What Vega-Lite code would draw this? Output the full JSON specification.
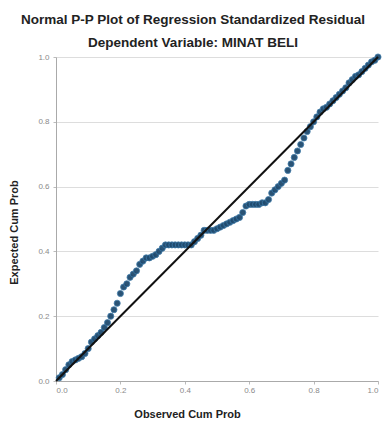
{
  "$schema": "https://vega.github.io/schema/vega-lite/v6.json",
  "width": 322,
  "height": 324,
  "autosize": "none",
  "padding": {"left": 56, "top": 57, "right": 5, "bottom": 40},
  "background": "white",
  "title": {
    "text": "Normal P-P Plot of Regression Standardized Residual",
    "subtitle": "Dependent Variable: MINAT BELI",
    "font": "Liberation Sans",
    "fontSize": 13.5,
    "fontWeight": "bold",
    "color": "#222222",
    "subtitleFont": "Liberation Sans",
    "subtitleFontSize": 13.5,
    "subtitleFontWeight": "bold",
    "subtitleColor": "#222222",
    "subtitlePadding": 9,
    "anchor": "middle",
    "frame": "group",
    "offset": 3,
    "dx": -24
  },
  "config": {
    "view": {"stroke": null},
    "axis": {
      "labelFont": "Liberation Sans",
      "labelFontSize": 8,
      "labelColor": "#8a8a8a",
      "titleFont": "Liberation Sans",
      "titleFontSize": 11,
      "titleFontWeight": "bold",
      "titleColor": "#222222",
      "domainColor": "#aaaaaa",
      "tickColor": "#bbbbbb",
      "tickSize": 3,
      "gridColor": "#dddddd"
    }
  },
  "datasets": {
    "pts": [
      {"obs": 0.01, "exp": 0.01}, {"obs": 0.02, "exp": 0.02}, {"obs": 0.03, "exp": 0.035}, {"obs": 0.04, "exp": 0.05},
      {"obs": 0.05, "exp": 0.06}, {"obs": 0.06, "exp": 0.065}, {"obs": 0.07, "exp": 0.07}, {"obs": 0.08, "exp": 0.075},
      {"obs": 0.09, "exp": 0.085}, {"obs": 0.10, "exp": 0.10}, {"obs": 0.11, "exp": 0.12}, {"obs": 0.12, "exp": 0.13},
      {"obs": 0.13, "exp": 0.14}, {"obs": 0.14, "exp": 0.15}, {"obs": 0.15, "exp": 0.165}, {"obs": 0.16, "exp": 0.18},
      {"obs": 0.17, "exp": 0.20}, {"obs": 0.18, "exp": 0.22}, {"obs": 0.19, "exp": 0.24}, {"obs": 0.20, "exp": 0.27},
      {"obs": 0.21, "exp": 0.29}, {"obs": 0.22, "exp": 0.30}, {"obs": 0.23, "exp": 0.32}, {"obs": 0.24, "exp": 0.33},
      {"obs": 0.25, "exp": 0.34}, {"obs": 0.26, "exp": 0.36}, {"obs": 0.27, "exp": 0.37}, {"obs": 0.28, "exp": 0.38},
      {"obs": 0.29, "exp": 0.38}, {"obs": 0.30, "exp": 0.385}, {"obs": 0.31, "exp": 0.39}, {"obs": 0.32, "exp": 0.40},
      {"obs": 0.33, "exp": 0.41}, {"obs": 0.34, "exp": 0.42}, {"obs": 0.35, "exp": 0.42}, {"obs": 0.36, "exp": 0.42},
      {"obs": 0.37, "exp": 0.42}, {"obs": 0.38, "exp": 0.42}, {"obs": 0.39, "exp": 0.42}, {"obs": 0.40, "exp": 0.42},
      {"obs": 0.41, "exp": 0.42}, {"obs": 0.42, "exp": 0.42}, {"obs": 0.43, "exp": 0.43}, {"obs": 0.44, "exp": 0.44},
      {"obs": 0.45, "exp": 0.45}, {"obs": 0.46, "exp": 0.465}, {"obs": 0.47, "exp": 0.465}, {"obs": 0.48, "exp": 0.465},
      {"obs": 0.49, "exp": 0.465}, {"obs": 0.50, "exp": 0.47}, {"obs": 0.51, "exp": 0.475}, {"obs": 0.52, "exp": 0.48},
      {"obs": 0.53, "exp": 0.485}, {"obs": 0.54, "exp": 0.49}, {"obs": 0.55, "exp": 0.495}, {"obs": 0.56, "exp": 0.50},
      {"obs": 0.57, "exp": 0.505}, {"obs": 0.58, "exp": 0.52}, {"obs": 0.59, "exp": 0.54}, {"obs": 0.60, "exp": 0.545},
      {"obs": 0.61, "exp": 0.545}, {"obs": 0.62, "exp": 0.545}, {"obs": 0.63, "exp": 0.545}, {"obs": 0.64, "exp": 0.55},
      {"obs": 0.65, "exp": 0.55}, {"obs": 0.66, "exp": 0.56}, {"obs": 0.67, "exp": 0.58}, {"obs": 0.68, "exp": 0.59},
      {"obs": 0.69, "exp": 0.60}, {"obs": 0.70, "exp": 0.61}, {"obs": 0.71, "exp": 0.62}, {"obs": 0.72, "exp": 0.65},
      {"obs": 0.73, "exp": 0.67}, {"obs": 0.74, "exp": 0.69}, {"obs": 0.75, "exp": 0.71}, {"obs": 0.76, "exp": 0.73},
      {"obs": 0.77, "exp": 0.75}, {"obs": 0.78, "exp": 0.77}, {"obs": 0.79, "exp": 0.785}, {"obs": 0.80, "exp": 0.80},
      {"obs": 0.81, "exp": 0.815}, {"obs": 0.82, "exp": 0.83}, {"obs": 0.83, "exp": 0.84}, {"obs": 0.84, "exp": 0.845},
      {"obs": 0.85, "exp": 0.855}, {"obs": 0.86, "exp": 0.865}, {"obs": 0.87, "exp": 0.875}, {"obs": 0.88, "exp": 0.885},
      {"obs": 0.89, "exp": 0.895}, {"obs": 0.90, "exp": 0.905}, {"obs": 0.91, "exp": 0.92}, {"obs": 0.92, "exp": 0.93},
      {"obs": 0.93, "exp": 0.94}, {"obs": 0.94, "exp": 0.945}, {"obs": 0.95, "exp": 0.955}, {"obs": 0.96, "exp": 0.965},
      {"obs": 0.97, "exp": 0.975}, {"obs": 0.98, "exp": 0.985}, {"obs": 0.99, "exp": 0.99}, {"obs": 1.00, "exp": 1.0}
    ],
    "diag": [
      {"obs": 0, "exp": 0},
      {"obs": 1, "exp": 1}
    ]
  },
  "layer": [
    {
      "data": {"name": "pts"},
      "mark": {"type": "point", "filled": true, "size": 38, "color": "#1f4a6e", "opacity": 0.95, "stroke": "#3a78a8", "strokeWidth": 0.8},
      "encoding": {
        "x": {
          "field": "obs", "type": "quantitative",
          "scale": {"domain": [0, 1], "nice": false},
          "axis": {"title": "Observed Cum Prob", "values": [0, 0.2, 0.4, 0.6, 0.8, 1.0], "format": ".1f", "grid": false, "titlePadding": 14, "titleX": 131, "labelPadding": 2}
        },
        "y": {
          "field": "exp", "type": "quantitative",
          "scale": {"domain": [0, 1], "nice": false},
          "axis": {"title": "Expected Cum Prob", "values": [0, 0.2, 0.4, 0.6, 0.8, 1.0], "format": ".1f", "grid": true, "titlePadding": 18, "titleY": 175, "labelPadding": 4}
        }
      }
    },
    {
      "data": {"name": "diag"},
      "mark": {"type": "line", "color": "#111111", "strokeWidth": 2},
      "encoding": {
        "x": {"field": "obs", "type": "quantitative"},
        "y": {"field": "exp", "type": "quantitative"}
      }
    }
  ]
}
